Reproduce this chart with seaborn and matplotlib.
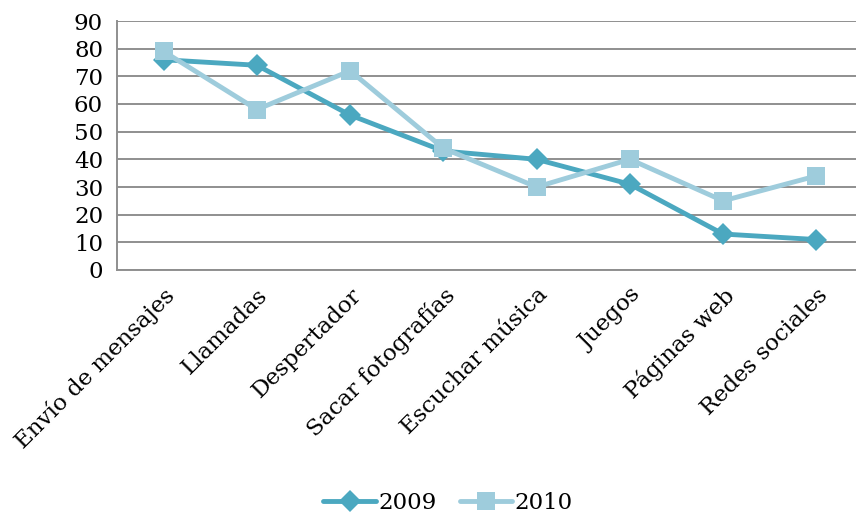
import matplotlib
matplotlib.use("Agg")
import matplotlib.pyplot as plt
import seaborn as sns
import pandas as pd
from matplotlib.ticker import MultipleLocator, FixedLocator

categories = ["Envío de mensajes", "Llamadas", "Despertador", "Sacar fotografías",
              "Escuchar música", "Juegos", "Páginas web", "Redes sociales"]
values_2009 = [76, 74, 56, 43, 40, 31, 13, 11]
values_2010 = [79, 58, 72, 44, 30, 40, 25, 34]
series_names = ["2009", "2010"]
colors = {"2009": "#4BA8C0", "2010": "#9ECCDC"}
markers = {"2009": "D", "2010": "s"}

sns.set_theme(style="white")
plt.rcParams["font.family"] = ["DejaVu Serif", "Liberation Serif"]
plt.rcParams["text.color"] = "black"
plt.rcParams["xtick.labelcolor"] = "black"
plt.rcParams["ytick.labelcolor"] = "black"

pos = list(range(len(categories)))
df = pd.DataFrame({
    "pos": pos * 2,
    "valor": values_2009 + values_2010,
    "serie": [series_names[0]] * len(categories) + [series_names[1]] * len(categories),
})

fig = plt.figure(figsize=(8.56, 5.17), dpi=100)
ax = fig.add_axes([117/856, 1 - 270/517, (863-117)/856, (270-21)/517])

for s in series_names:
    sub = df[df["serie"] == s]
    sns.lineplot(data=sub, x="pos", y="valor", ax=ax, color=colors[s], marker=markers[s],
                 markersize=13 if s == "2010" else 11, markeredgewidth=0, linewidth=3.5,
                 label=s, sort=False)

ax.set_xlim(-0.5, len(categories) - 0.5)
ax.set_ylim(0, 90)
ax.yaxis.set_major_locator(MultipleLocator(10))
ax.grid(axis="y", color="#8f8f8f", linewidth=1.4)
ax.grid(axis="x", visible=False)
ax.set_axisbelow(True)

ax.set_xticks(pos)
ax.set_xticklabels(categories, rotation=45, ha="right", rotation_mode="anchor", fontsize=16.5)
ax.xaxis.set_minor_locator(FixedLocator([p - 0.5 for p in pos] + [len(categories) - 0.5]))
ax.tick_params(axis="x", which="major", length=0, pad=10, labelcolor="black")
ax.tick_params(axis="x", which="minor", length=7, width=1.4, color="#8f8f8f", direction="out")
ax.tick_params(axis="y", length=7, width=1.4, color="#8f8f8f", direction="out", labelsize=16.5,
               pad=3, labelcolor="black")
ax.set_xlabel("")
ax.set_ylabel("")

for side in ["top", "right"]:
    ax.spines[side].set_visible(False)
for side in ["left", "bottom"]:
    ax.spines[side].set_color("#8f8f8f")
    ax.spines[side].set_linewidth(1.4)

ax.legend(loc="center", bbox_to_anchor=(448/856, 1 - 503/517), bbox_transform=fig.transFigure,
          ncol=2, frameon=False, fontsize=16.5, handlelength=2.3, columnspacing=1.0,
          handletextpad=0.1, labelcolor="black")

fig.savefig("out.png", dpi=100)
